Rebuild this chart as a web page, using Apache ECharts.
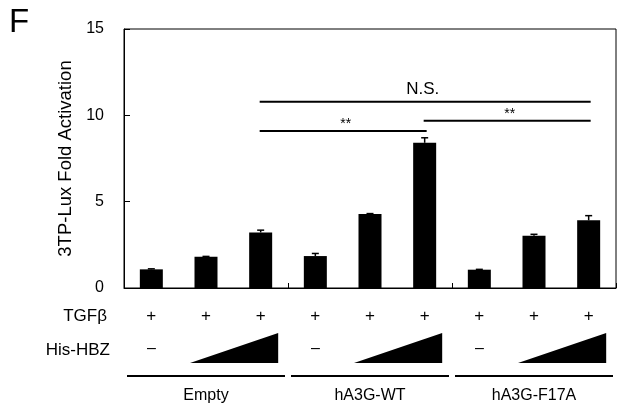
<!DOCTYPE html>
<html>
<head>
<meta charset="utf-8">
<script src="https://cdn.jsdelivr.net/npm/echarts@6/dist/echarts.min.js"></script>
<style>
  html, body { margin: 0; padding: 0; background: #fff; }
  #chart { width: 623px; height: 407px; }
</style>
</head>
<body>
<div id="chart"></div>
<script>
// Reporter constructs and treatment conditions
const groups = ['Empty', 'hA3G-WT', 'hA3G-F17A'];
const hbzDoses = ['none', 'low', 'high'];
const tgfbRow = ['+', '+', '+', '+', '+', '+', '+', '+', '+'];
const hbzRow = [0, 1, 2, 0, 1, 2, 0, 1, 2]; // 0 = no His-HBZ, 1/2 = increasing amount

// 3TP-Lux fold activation (mean) and error (SD)
const foldActivation = [1.08, 1.81, 3.22, 1.85, 4.28, 8.41, 1.06, 3.03, 3.92];
const errorValues = [0.03, 0.02, 0.13, 0.15, 0.03, 0.29, 0.02, 0.08, 0.27];

// Y axis
const yMin = 0, yMax = 15, yStep = 5;

// Significance brackets: from / to category index, height, label
const bracketFrom = [2, 2, 5];
const bracketTo = [8, 5, 8];
const bracketY = [10.79, 9.09, 9.69];
const bracketText = ['N.S.', '**', '**'];

const categories = [];
groups.forEach(g => hbzDoses.forEach(d => categories.push(g + ' / ' + d)));

const FONT = '"Liberation Sans", Arial, sans-serif';

const chart = echarts.init(document.getElementById('chart'));

const errData = foldActivation.map((v, i) => [i, v, errorValues[i]]);
const bracketData = bracketText.map((t, i) => [bracketFrom[i], bracketTo[i], bracketY[i], i]);
const tableData = categories.map((c, i) => [i, hbzRow[i]]);

chart.setOption({
  animation: false,
  backgroundColor: '#fff',
  grid: {
    left: 124, top: 29, width: 492, height: 259,
    show: true, borderColor: '#000', borderWidth: 1, backgroundColor: 'transparent'
  },
  xAxis: {
    type: 'category',
    data: categories,
    boundaryGap: true,
    axisLine: { lineStyle: { color: '#000', width: 1 } },
    axisTick: { show: true, inside: true, length: 5, lineStyle: { color: '#000' } },
    axisLabel: { show: false },
    splitLine: { show: false }
  },
  yAxis: {
    type: 'value',
    min: yMin, max: yMax, interval: yStep,
    axisLine: { show: true, lineStyle: { color: '#000', width: 1 } },
    axisTick: { show: true, inside: true, length: 6, lineStyle: { color: '#000' } },
    axisLabel: { color: '#000', fontSize: 16, fontFamily: FONT, margin: 20 },
    splitLine: { show: false },
    name: '3TP-Lux Fold Activation',
    nameLocation: 'middle',
    nameGap: 46,
    nameTextStyle: { color: '#000', fontSize: 18.5, fontFamily: FONT }
  },
  graphic: [
    { type: 'text', left: 9, top: 6, style: { text: 'F', fill: '#000', font: '33px ' + FONT } },
    { type: 'text', x: 107, y: 316, style: { text: 'TGFβ', fill: '#000', font: '17px ' + FONT, textAlign: 'right', textVerticalAlign: 'middle' } },
    { type: 'text', x: 110, y: 350, style: { text: 'His-HBZ', fill: '#000', font: '17px ' + FONT, textAlign: 'right', textVerticalAlign: 'middle' } }
  ],
  series: [
    {
      type: 'bar',
      data: foldActivation,
      barWidth: 23,
      itemStyle: { color: '#000' },
      z: 2
    },
    {
      // error bars (upper half with cap)
      type: 'custom',
      data: errData,
      z: 3,
      renderItem: function (params, api) {
        const i = api.value(0), v = api.value(1), e = api.value(2);
        const base = api.coord([i, v]);
        const top = api.coord([i, v + e]);
        const hw = 3.5;
        return {
          type: 'group',
          children: [
            { type: 'line', shape: { x1: base[0], y1: base[1], x2: top[0], y2: top[1] }, style: { stroke: '#000', lineWidth: 1.5 } },
            { type: 'line', shape: { x1: top[0] - hw, y1: top[1], x2: top[0] + hw, y2: top[1] }, style: { stroke: '#000', lineWidth: 1.5 } }
          ]
        };
      }
    },
    {
      // significance brackets
      type: 'custom',
      data: bracketData,
      z: 4,
      renderItem: function (params, api) {
        const a = api.coord([api.value(0), api.value(2)]);
        const b = api.coord([api.value(1), api.value(2)]);
        const idx = api.value(3);
        const label = bracketText[idx];
        const isStar = label === '**';
        return {
          type: 'group',
          children: [
            { type: 'line', shape: { x1: a[0] - 1, y1: a[1], x2: b[0] + 2, y2: b[1] }, style: { stroke: '#000', lineWidth: 2 } },
            {
              type: 'text',
              x: (a[0] + b[0]) / 2 + (isStar ? 3 : -2),
              y: a[1] - (isStar ? 7 : 12),
              style: {
                text: label, fill: '#000',
                font: (isStar ? '14px ' : '17px ') + FONT,
                textAlign: 'center', textVerticalAlign: 'middle'
              }
            }
          ]
        };
      }
    },
    {
      // condition table under the axis
      type: 'custom',
      data: tableData,
      clip: false,
      silent: true,
      renderItem: function (params, api) {
        const i = api.value(0);
        const dose = api.value(1);
        const p = api.coord([i, 0]);
        const y0 = p[1];
        const bw = api.size([1, 0])[0];
        const children = [
          { type: 'text', x: p[0], y: y0 + 28, style: { text: tgfbRow[i], fill: '#000', font: '17px ' + FONT, textAlign: 'center', textVerticalAlign: 'middle' } }
        ];
        if (dose === 0) {
          children.push({ type: 'text', x: p[0], y: y0 + 61, style: { text: '–', fill: '#000', font: '16px ' + FONT, textAlign: 'center', textVerticalAlign: 'middle' } });
          // group underline and name
          children.push({ type: 'line', shape: { x1: p[0] - bw / 2 + 3, y1: y0 + 88, x2: p[0] + bw * 2.5 - 3, y2: y0 + 88 }, style: { stroke: '#000', lineWidth: 2 } });
          children.push({ type: 'text', x: p[0] + bw, y: y0 + 108, style: { text: groups[Math.round(i / 3)], fill: '#000', font: '16px ' + FONT, textAlign: 'center', textVerticalAlign: 'middle' } });
        }
        if (dose === 2) {
          // increasing-dose wedge spanning the two His-HBZ lanes
          const left = p[0] - bw - 16;
          const right = p[0] + 17.5;
          children.push({
            type: 'polygon',
            shape: { points: [[left, y0 + 75], [right, y0 + 75], [right, y0 + 45]] },
            style: { fill: '#000' }
          });
        }
        return { type: 'group', children: children };
      }
    }
  ]
});
</script>
</body>
</html>
